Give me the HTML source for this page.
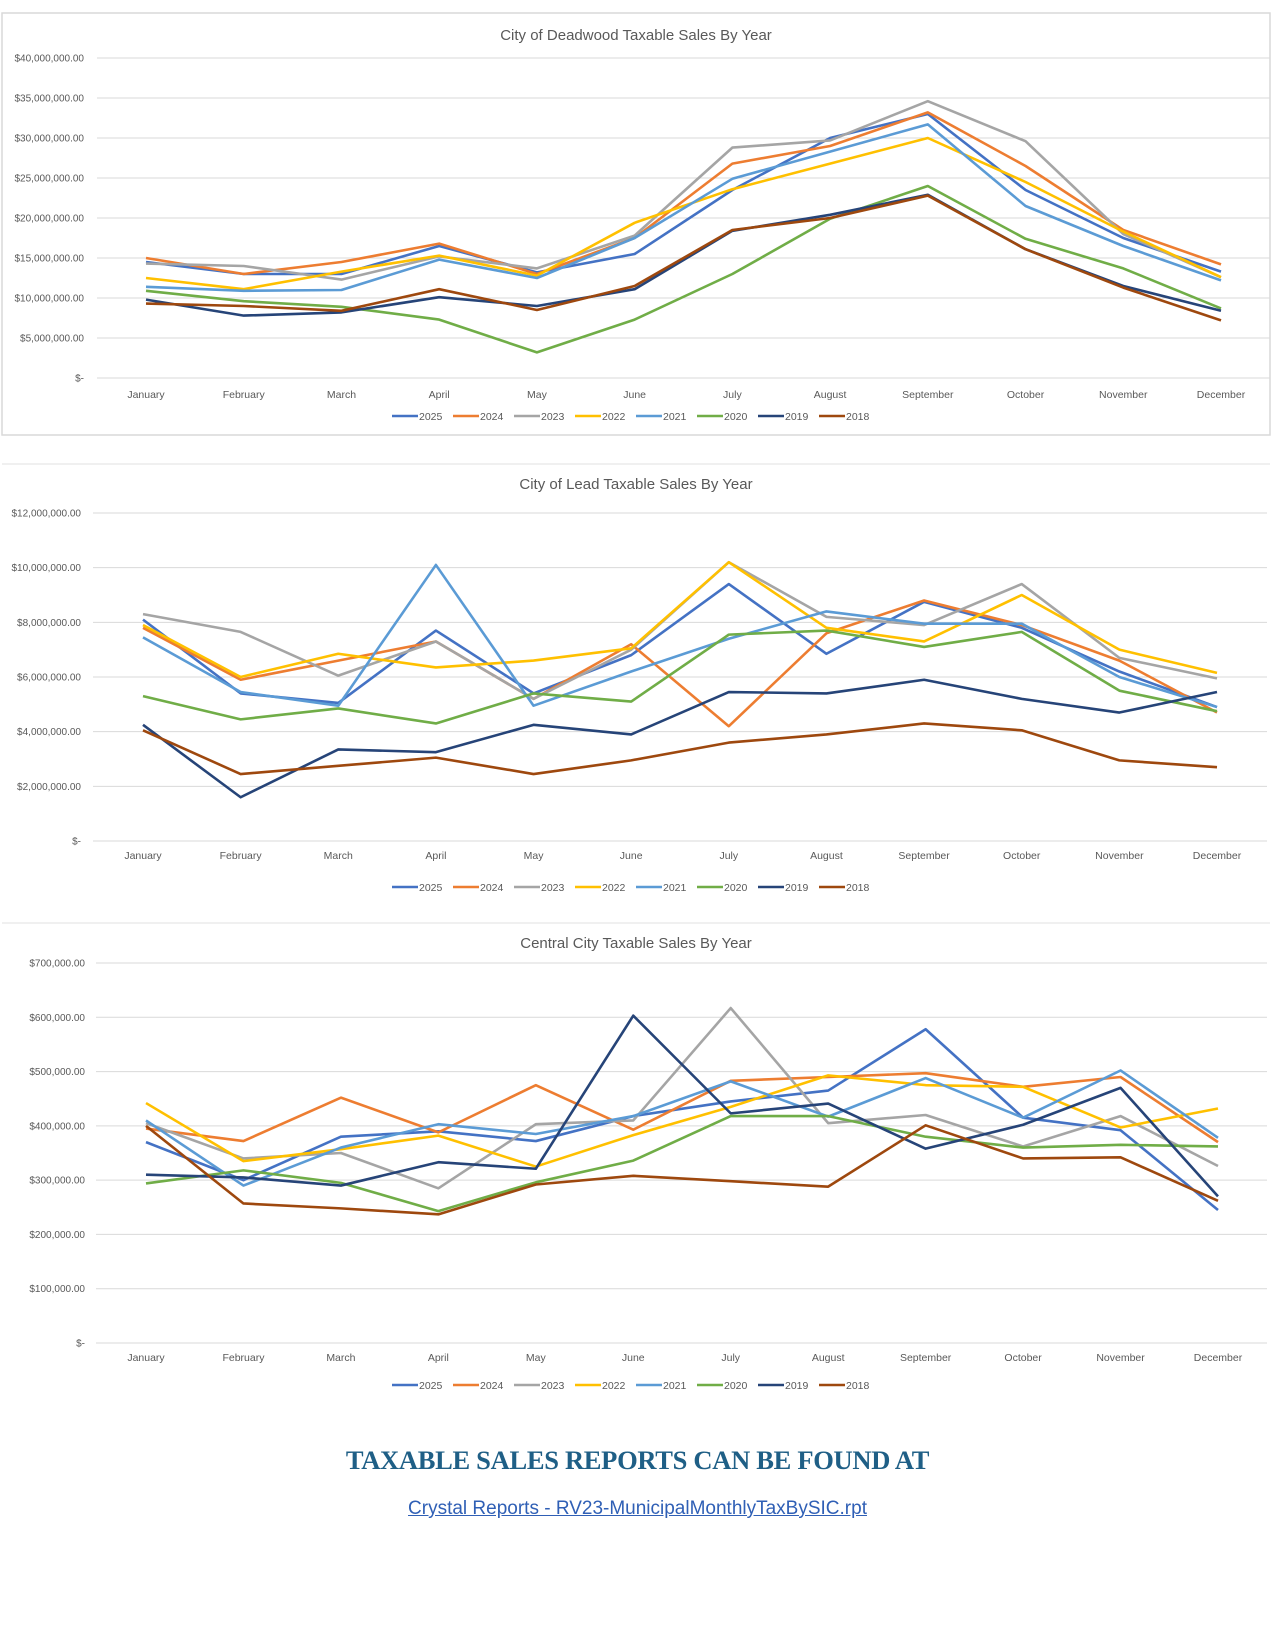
<!DOCTYPE html>
<html><head><meta charset="utf-8">
<style>
body{margin:0;width:1275px;height:1650px;background:#fff;position:relative;overflow:hidden;font-family:"Liberation Sans",sans-serif}
svg{position:absolute;left:0;top:0}
#hd{position:absolute;left:0;width:1275px;top:1445px;text-align:center;font-family:"Liberation Serif",serif;font-weight:bold;font-size:26.5px;color:#1f5f86;letter-spacing:-0.3px}
#lk{position:absolute;left:0;width:1275px;top:1498px;text-align:center;font-size:19px;color:#2f5fb5;text-decoration:underline}
</style></head><body>
<svg id="svg" width="1275" height="1650"></svg>
<div id="hd">TAXABLE SALES REPORTS CAN BE FOUND AT</div>
<a id="lk">Crystal Reports - RV23-MunicipalMonthlyTaxBySIC.rpt</a>
<script>
const months=["January","February","March","April","May","June","July","August","September","October","November","December"];
const years=["2025","2024","2023","2022","2021","2020","2019","2018"];
const colors=["#4472c4","#ed7d31","#a5a5a5","#ffc000","#5b9bd5","#70ad47","#264478","#9e480e"];
const deadwoodValues=[
[14.5,13,13,16.5,13.2,15.5,23.5,30,33,23.5,17.5,13.3],
[15,13,14.5,16.8,13,17.5,26.8,29,33.2,26.5,18.5,14.2],
[14.3,14,12.3,15.2,13.7,17.8,28.8,29.7,34.6,29.6,18,12.6],
[12.5,11.1,13.3,15.3,12.8,19.4,23.6,26.8,30,24.5,18.3,12.6],
[11.4,10.9,11,14.8,12.5,17.5,24.9,28.3,31.7,21.5,16.5,12.2],
[10.9,9.6,8.9,7.3,3.2,7.3,13,19.9,24,17.4,13.7,8.7],
[9.8,7.8,8.2,10.1,9,11.1,18.4,20.4,22.9,16.1,11.5,8.4],
[9.3,9,8.4,11.1,8.5,11.5,18.5,20,22.8,16.1,11.3,7.2]];
const deadwoodTicks=["$-","$5,000,000.00","$10,000,000.00","$15,000,000.00","$20,000,000.00","$25,000,000.00","$30,000,000.00","$35,000,000.00","$40,000,000.00"];
const leadValues=[
[8.1,5.4,5.05,7.7,5.4,6.8,9.4,6.85,8.75,7.8,6.2,4.9],
[7.8,5.9,6.6,7.3,5.2,7.2,4.2,7.6,8.8,7.9,6.6,4.7],
[8.3,7.65,6.05,7.3,5.2,7.0,10.2,8.2,7.9,9.4,6.7,5.95],
[7.9,6.0,6.85,6.35,6.6,7.05,10.2,7.8,7.3,9.0,7.0,6.15],
[7.45,5.45,4.95,10.1,4.95,6.2,7.4,8.4,7.95,7.95,6.0,4.9],
[5.3,4.45,4.85,4.3,5.4,5.1,7.55,7.7,7.1,7.65,5.5,4.75],
[4.25,1.6,3.35,3.25,4.25,3.9,5.45,5.4,5.9,5.2,4.7,5.45],
[4.05,2.45,2.75,3.05,2.45,2.95,3.6,3.9,4.3,4.05,2.95,2.7]];
const leadTicks=["$-","$2,000,000.00","$4,000,000.00","$6,000,000.00","$8,000,000.00","$10,000,000.00","$12,000,000.00"];
const centralValues=[
[370,300,380,390,372,418,445,465,578,415,392,245],
[395,372,452,388,475,393,483,490,497,472,490,370],
[405,340,350,285,403,410,617,405,420,362,418,326],
[442,335,357,382,325,383,435,493,475,472,397,432],
[410,290,360,403,385,418,482,417,488,415,502,378],
[294,318,295,243,296,336,418,418,380,360,365,362],
[310,305,290,333,321,603,423,441,358,402,470,270],
[400,257,248,237,292,308,298,288,401,340,342,262]];
const centralTicks=["$-","$100,000.00","$200,000.00","$300,000.00","$400,000.00","$500,000.00","$600,000.00","$700,000.00"];

const svg=document.getElementById('svg');
const NS="http://www.w3.org/2000/svg";
function mk(tag,attrs,parent){const e=document.createElementNS(NS,tag);for(const k in attrs)e.setAttribute(k,attrs[k]);(parent||svg).appendChild(e);return e;}
function txt(x,y,s,size,anchor,fill,parent){const t=mk('text',{x:x,y:y,'font-size':size,'text-anchor':anchor,fill:fill,'font-family':'"Liberation Sans",sans-serif'},parent);t.textContent=s;return t;}

function chart(o){
  const g=mk('g',{});
  
  
  if(o.box){const b=mk('rect',{x:o.box[0],y:o.box[1],width:o.box[2],height:o.box[3],fill:'none',stroke:'#d9d9d9','stroke-width':1.5},g);}
  const cx=636;
  const t=txt(cx,o.titleY,o.title,15,'middle','#595959',g);
  
  const n=o.ticks.length-1;
  const ys=v=>o.y0-(v/o.max)*(o.y0-o.yTop);
  const xs=i=>o.x0+i*(o.x1-o.x0)/11;
  o.ticks.forEach((s,i)=>{
    const v=o.max*i/n,y=ys(v);
    const l=mk('line',{x1:o.gx0,x2:o.gx1,y1:y,y2:y,stroke:'#d9d9d9','stroke-width':1},g);
    
    const tl=txt(o.labelX,y+3.5,s,10,'end','#595959',g);
    
  });
  months.forEach((m,i)=>{const tl=txt(xs(i),o.monthY,m,10.5,'middle','#595959',g);});
  o.values.forEach((arr,k)=>{
    const p=mk('polyline',{points:arr.map((v,i)=>xs(i)+','+ys(v)).join(' '),fill:'none',stroke:colors[k],'stroke-width':2.6,'stroke-linejoin':'round'},g);
    
  });
  const lw=61,lx0=cx-lw*4;
  years.forEach((yr,k)=>{
    const lg=mk('g',{},g);
    
    const x=lx0+k*lw;
    mk('line',{x1:x,x2:x+26,y1:o.legY,y2:o.legY,stroke:colors[k],'stroke-width':2.6},lg);
    txt(x+27,o.legY+4,yr,10.5,'start','#595959',lg);
  });
}
chart({name:'deadwood-chart',box:[2,13,1268,422],title:'City of Deadwood Taxable Sales By Year',titleY:40,values:deadwoodValues,ticks:deadwoodTicks,max:40,
 y0:378,yTop:58,x0:146,x1:1221,gx0:97,gx1:1270,labelX:84,monthY:398,legY:416});
mk('line',{x1:2,x2:1270,y1:464,y2:464,stroke:'#e0e0e0'});
chart({name:'lead-chart',title:'City of Lead Taxable Sales By Year',titleY:489,values:leadValues,ticks:leadTicks,max:12,
 y0:841,yTop:513,x0:143,x1:1217,gx0:93,gx1:1267,labelX:81,monthY:859,legY:887});
mk('line',{x1:2,x2:1270,y1:923,y2:923,stroke:'#e0e0e0'});
chart({name:'central-city-chart',title:'Central City Taxable Sales By Year',titleY:948,values:centralValues,ticks:centralTicks,max:700,
 y0:1343,yTop:963,x0:146,x1:1218,gx0:96,gx1:1267,labelX:85,monthY:1361,legY:1385});
</script>
</body></html>
